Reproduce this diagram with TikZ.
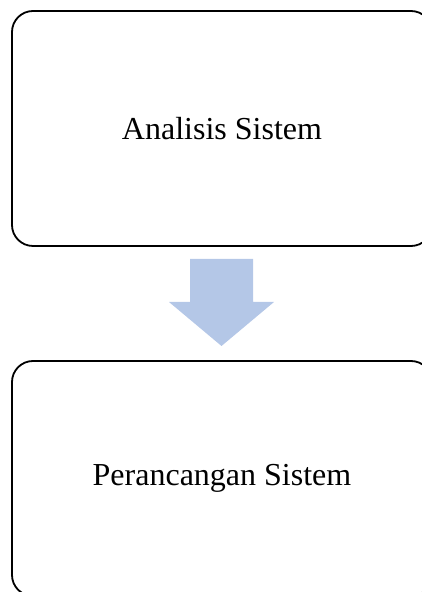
\documentclass[tikz,border=0pt]{standalone}
\usepackage{fontspec}
\setmainfont{Liberation Serif}
\usepackage{tikz}
\usetikzlibrary{positioning}
\definecolor{flowblue}{RGB}{180, 199, 231}
\tikzset{
  stage/.style={draw=black, line width=1.8pt, rounded corners=21pt,
    minimum width=420pt, minimum height=235pt, inner sep=0pt,
    font=\fontsize{32}{38}\selectfont},
}

\begin{document}
\begin{tikzpicture}[x=1pt, y=1pt]
  \useasboundingbox (0,0) rectangle (422,592);
  \node[stage] (analisis) at (222,463.5) {Analisis Sistem};
  \node[stage] (perancangan) at (222,113.5) {Perancangan Sistem};
  % block arrow between the two stages
  \coordinate (tip) at (221.5,246);
  \fill[flowblue] (190,333) -- (253,333) -- (253,290) -- (274,290)
    -- (tip) -- (169,290) -- (190,290) -- cycle;
\end{tikzpicture}
\end{document}
